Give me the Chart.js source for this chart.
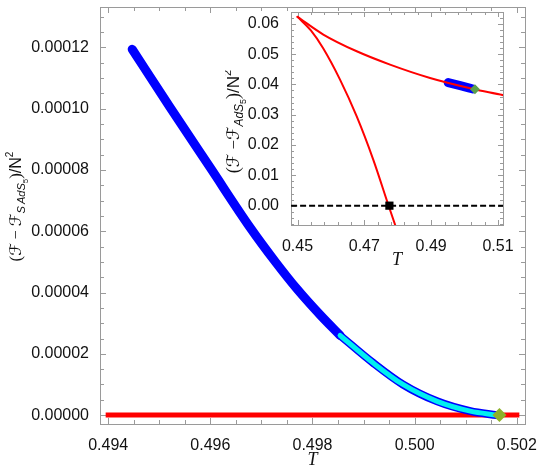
<!DOCTYPE html>
<html>
<head>
<meta charset="utf-8">
<script src="https://cdn.jsdelivr.net/npm/chart.js@4.4.1/dist/chart.umd.min.js"></script>
<style>
  html, body { margin: 0; padding: 0; background: #fff; }
  #wrap { position: relative; width: 540px; height: 470px; }
  #main { position: absolute; left: 0; top: 0; }
  #inset { position: absolute; left: 225px; top: 5px; }
</style>
</head>
<body>
<div id="wrap">
  <canvas id="main" width="540" height="470"></canvas>
  <canvas id="inset" width="290" height="265"></canvas>
</div>
<script>
/* global Chart */

// ---- main plot: (F - F_SAdS5)/N^2 vs T ----
const blueT = [0.49447, 0.49521, 0.49600, 0.49678, 0.49727, 0.49770, 0.49815, 0.49854];
const blueF = [0.0001194, 0.0001005, 0.0000807, 0.0000612, 0.0000501, 0.0000411, 0.0000327, 0.0000260];
const cyanT = [0.49854, 0.49919, 0.49977, 0.50044, 0.50109, 0.50161];
const cyanF = [0.0000260, 0.0000170, 0.0000100, 0.0000045, 0.0000013, 0.0];
const redT = [0.494, 0.502];
const redF = [0, 0];
const critT = [0.50166];
const critF = [0];

const mainXTicks = [0.494, 0.496, 0.498, 0.500, 0.502];
const mainYTicks = [0, 0.00002, 0.00004, 0.00006, 0.00008, 0.00010, 0.00012];

// ---- inset: (F - F_AdS5)/N^2 vs T ----
const upperT = [0.45, 0.45772, 0.46772, 0.47769, 0.48967, 0.50263, 0.51182, 0.5125];
const upperF = [0.0623, 0.05647, 0.05094, 0.04655, 0.04214, 0.03850, 0.03639, 0.0362];
const lowerT = [0.45, 0.454, 0.45763, 0.46272, 0.46772, 0.47269, 0.47719, 0.4805];
const lowerF = [0.0623, 0.0578, 0.0520, 0.04158, 0.02944, 0.01512, 0.00023, -0.0105];
const blobT = [0.4951, 0.4987, 0.5025];
const blobF = [0.0406, 0.0396, 0.0385];
const zeroT = [0.44, 0.52];
const zeroF = [0, 0];
const hpT = [0.4775];
const hpF = [0];
const insetCritT = [0.5031];
const insetCritF = [0.0384];

const insetXTicks = [0.45, 0.47, 0.49, 0.51];
const insetYTicks = [0, 0.01, 0.02, 0.03, 0.04, 0.05, 0.06];

const FRAME = '#9a9a9a';
const TEXT = '#111';
const SANS = '"Liberation Sans", Arial, sans-serif';
const SERIF = '"Liberation Serif", "DejaVu Serif", serif';
const SCRIPT = '"DejaVu Serif", "DejaVu Sans", serif';

function pts(xs, ys) {
  return xs.map((x, i) => ({ x: x, y: ys[i] }));
}

function steps(from, to, step) {
  const out = [];
  const n = Math.round((to - from) / step);
  for (let i = 0; i <= n; i++) out.push(from + i * step);
  return out;
}

/**
 * Draw a run of text pieces (sub/superscripts) centred at cx, cy.
 */
function drawRich(ctx, segs, cx, cy, rot) {
  ctx.save();
  ctx.translate(cx, cy);
  ctx.rotate(rot || 0);
  let w = 0;
  segs.forEach((s) => { ctx.font = s.font; w += ctx.measureText(s.t).width; });
  let x = -w / 2;
  ctx.fillStyle = TEXT;
  ctx.textBaseline = 'alphabetic';
  ctx.textAlign = 'left';
  segs.forEach((s) => {
    ctx.font = s.font;
    ctx.fillText(s.t, x, s.dy || 0);
    x += ctx.measureText(s.t).width;
  });
  ctx.restore();
}

// Mathematica style frame with inward ticks on all four sides
const frameTicks = {
  id: 'frameTicks',
  beforeDatasetsDraw(chart, args, opts) {
    const { ctx, chartArea: a } = chart;
    const xs = chart.scales.x, ys = chart.scales.y;
    ctx.save();
    if (opts.fill) {
      ctx.fillStyle = '#fff';
      ctx.fillRect(a.left, a.top, a.right - a.left, a.bottom - a.top);
    }
    ctx.strokeStyle = FRAME;
    ctx.lineWidth = 1;
    ctx.strokeRect(Math.round(a.left) + 0.5, Math.round(a.top) + 0.5,
      Math.round(a.right - a.left), Math.round(a.bottom - a.top));
    ctx.beginPath();
    const tick = (vals, len) => {
      vals.forEach((v) => {
        if (v < xs.min || v > xs.max) return;
        const px = Math.round(xs.getPixelForValue(v)) + 0.5;
        ctx.moveTo(px, a.bottom); ctx.lineTo(px, a.bottom - len);
        ctx.moveTo(px, a.top); ctx.lineTo(px, a.top + len);
      });
    };
    const ytick = (vals, len) => {
      vals.forEach((v) => {
        if (v < ys.min || v > ys.max) return;
        const py = Math.round(ys.getPixelForValue(v)) + 0.5;
        ctx.moveTo(a.left, py); ctx.lineTo(a.left + len, py);
        ctx.moveTo(a.right, py); ctx.lineTo(a.right - len, py);
      });
    };
    tick(opts.xMinor, opts.minor);
    tick(opts.xMajor, opts.major);
    ytick(opts.yMinor, opts.minor);
    ytick(opts.yMajor, opts.major);
    ctx.stroke();
    ctx.restore();
  },
  afterDraw(chart, args, opts) {
    const a = chart.chartArea;
    const ctx = chart.ctx;
    const cx = (a.left + a.right) / 2;
    const cy = (a.top + a.bottom) / 2;
    drawRich(ctx, [{ t: 'T', font: 'italic 18px ' + SERIF }], cx, a.bottom + opts.tOffset, 0);
    drawRich(ctx, opts.yTitle, a.left - opts.yTitleOffset, cy + opts.yTitleShift, -Math.PI / 2);
  },
};

function axis(min, max, majors, digits, size, padding) {
  return {
    type: 'linear',
    min: min,
    max: max,
    grid: { display: false },
    border: { display: false },
    afterBuildTicks: (scale) => { scale.ticks = majors.map((v) => ({ value: v })); },
    ticks: {
      autoSkip: false,
      maxRotation: 0,
      padding: padding,
      color: TEXT,
      font: { family: SANS, size: 16 },
      callback: (v) => Number(v).toFixed(digits),
    },
    afterFit: (scale) => {
      if (scale.isHorizontal()) scale.height = size; else scale.width = size;
      // labels may overhang the plot edges, as in the original
      scale.paddingLeft = 0; scale.paddingRight = 0;
      scale.paddingTop = 0; scale.paddingBottom = 0;
    },
  };
}

function line(data, color, width, extra) {
  return Object.assign({
    data: data,
    showLine: true,
    borderColor: color,
    borderWidth: width,
    pointRadius: 0,
    fill: false,
    cubicInterpolationMode: 'monotone',
    borderCapStyle: 'round',
    borderJoinStyle: 'round',
  }, extra || {});
}

const mainTitle = [
  { t: '(', font: '17px ' + SERIF },
  { t: 'ℱ', font: '16px ' + SCRIPT },
  { t: ' − ', font: '16px ' + SERIF },
  { t: 'ℱ', font: '16px ' + SCRIPT },
  { t: 'S\u2009AdS', font: 'italic 11px ' + SANS, dy: 4 },
  { t: '5', font: '8px ' + SANS, dy: 7 },
  { t: ')', font: '17px ' + SERIF },
  { t: '/', font: '16px ' + SANS },
  { t: 'N', font: '16px ' + SANS },
  { t: '2', font: '10px ' + SANS, dy: -8 },
];

const insetTitle = [
  { t: '(', font: '18px ' + SERIF },
  { t: 'ℱ', font: '17px ' + SCRIPT },
  { t: ' −', font: '17px ' + SERIF },
  { t: 'ℱ', font: '17px ' + SCRIPT },
  { t: 'AdS', font: 'italic 12px ' + SANS, dy: 4 },
  { t: '5', font: '9px ' + SANS, dy: 7 },
  { t: ')', font: '18px ' + SERIF },
  { t: '/', font: '17px ' + SANS },
  { t: 'N', font: '17px ' + SANS },
  { t: '2', font: '11px ' + SANS, dy: -8 },
];

new Chart(document.getElementById('main'), {
  type: 'scatter',
  data: {
    datasets: [
      { data: pts(critT, critF), pointStyle: 'rectRot', pointRadius: 7, backgroundColor: '#8db12a', borderWidth: 0 },
      line(pts(cyanT, cyanF), '#00f0f0', 5),
      line(pts(cyanT, cyanF), '#0000ff', 8),
      line(pts(blueT, blueF), '#0000ff', 9),
      line(pts(redT, redF), '#ff0000', 5, { borderCapStyle: 'square' }),
    ],
  },
  plugins: [frameTicks],
  options: {
    responsive: false,
    animation: false,
    devicePixelRatio: 1,
    events: [],
    layout: { padding: { left: 0, right: 15, top: 1, bottom: 0 } },
    scales: {
      x: axis(0.49384, 0.50216, mainXTicks, 3, 46, 4),
      y: axis(-0.0000029, 0.0001332, mainYTicks, 5, 100, 3),
    },
    plugins: {
      legend: { display: false },
      tooltip: { enabled: false },
      frameTicks: {
        xMajor: mainXTicks, xMinor: steps(0.4935, 0.5025, 0.0005),
        yMajor: mainYTicks, yMinor: steps(0, 0.00013, 0.000005),
        major: 6, minor: 4, fill: false,
        tOffset: 41, yTitle: mainTitle, yTitleOffset: 79, yTitleShift: -9,
      },
    },
  },
});

new Chart(document.getElementById('inset'), {
  type: 'scatter',
  data: {
    datasets: [
      { data: pts(hpT, hpF), pointStyle: 'rect', pointRadius: 5.8, backgroundColor: '#000', borderWidth: 0 },
      { data: pts(insetCritT, insetCritF), pointStyle: 'rectRot', pointRadius: 5, backgroundColor: '#5a9e4c', borderWidth: 0 },
      line(pts(upperT, upperF), '#ff0000', 2),
      line(pts(lowerT, lowerF), '#ff0000', 2),
      line(pts(blobT, blobF), '#0000ff', 9),
      line(pts(zeroT, zeroF), '#000', 2, { borderDash: [6, 3], borderCapStyle: 'butt' }),
    ],
  },
  plugins: [frameTicks],
  options: {
    responsive: false,
    animation: false,
    devicePixelRatio: 1,
    events: [],
    layout: { padding: { left: 0, right: 12, top: 7, bottom: 0 } },
    scales: {
      x: axis(0.44805, 0.5115, insetXTicks, 2, 45, 4),
      y: axis(-0.00638, 0.0639, insetYTicks, 2, 66, 4),
    },
    plugins: {
      legend: { display: false },
      tooltip: { enabled: false },
      frameTicks: {
        xMajor: insetXTicks, xMinor: steps(0.446, 0.514, 0.004),
        yMajor: insetYTicks, yMinor: steps(-0.006, 0.064, 0.002),
        major: 5, minor: 3, fill: true,
        tOffset: 40, yTitle: insetTitle, yTitleOffset: 52, yTitleShift: 3,
      },
    },
  },
});
</script>
</body>
</html>
